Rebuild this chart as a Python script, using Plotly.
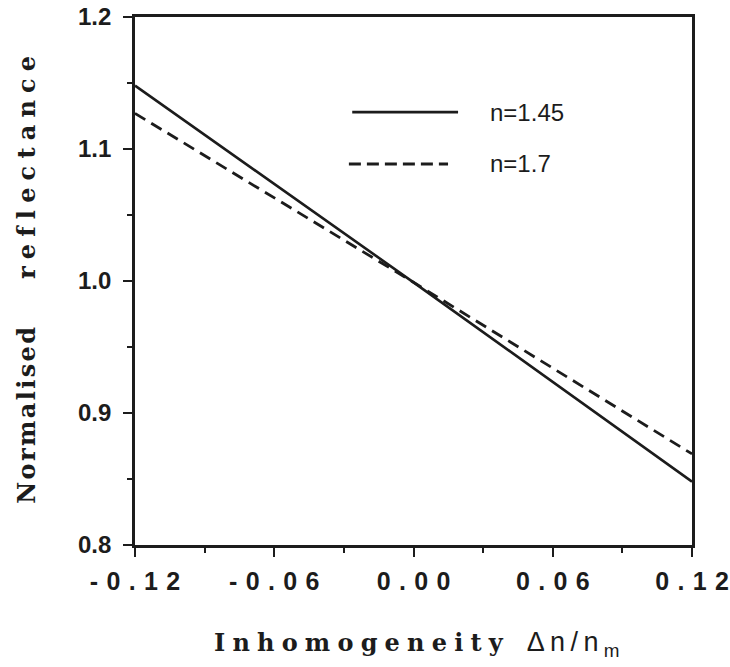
import plotly.graph_objects as go

# ---- data ----
x_vals = [-0.12, 0.0, 0.12]
refl_n145 = [1.148, 0.999, 0.848]
refl_n17 = [1.127, 0.999, 0.869]
series_names = ["n=1.45", "n=1.7"]
x_tickvals = [-0.12, -0.06, 0.0, 0.06, 0.12]
x_ticklabels = ["-0.12", "-0.06", "0.00", "0.06", "0.12"]
y_tickvals = [0.8, 0.9, 1.0, 1.1, 1.2]
y_ticklabels = ["0.8", "0.9", "1.0", "1.1", "1.2"]

def spaced(s, sp):
    return sp.join(list(s))

INK = "#1c1c1c"
SERIF = "DejaVu Serif"

fig = go.Figure()
fig.add_trace(go.Scatter(x=x_vals, y=refl_n145, mode="lines", name=series_names[0],
                         line=dict(color=INK, width=2.6), showlegend=False))
fig.add_trace(go.Scatter(x=x_vals, y=refl_n17, mode="lines", name=series_names[1],
                         line=dict(color=INK, width=2.8, dash="12px,7px"), showlegend=False))

# legend drawn manually
fig.add_shape(type="line", xref="paper", yref="paper", x0=0.39, x1=0.58, y0=0.82, y1=0.82,
              line=dict(color=INK, width=2.8))
fig.add_shape(type="line", xref="paper", yref="paper", x0=0.384, x1=0.562, y0=0.7216, y1=0.7216,
              line=dict(color=INK, width=2.8, dash="12px,6px"))
fig.add_annotation(xref="paper", yref="paper", x=0.633, y=0.82, text=series_names[0],
                   showarrow=False, xanchor="left", yanchor="middle",
                   font=dict(family="Liberation Sans", size=24, color=INK))
fig.add_annotation(xref="paper", yref="paper", x=0.633, y=0.7216, text=series_names[1],
                   showarrow=False, xanchor="left", yanchor="middle",
                   font=dict(family="Liberation Sans", size=24, color=INK))

# axis titles
xtitle = ("<b>" + spaced("Inhomogeneity", "\u2009\u200a") + "</b>" + "\u2003"
          + "<span style='font-family:Liberation Sans;font-weight:normal;font-size:27px'>"
          + spaced("Δn/n", "\u2009") + "\u2009<sub>m</sub></span>")
fig.add_annotation(xref="paper", yref="paper", x=0.138, y=-0.152, text=xtitle,
                   showarrow=False, xanchor="left", yanchor="top",
                   font=dict(family=SERIF, size=24, color=INK))
ytitle = ("<b>" + spaced("Normalised", "\u200a") + "\u2003\u2003"
          + spaced("reflectance", "\u2009\u200a") + "</b>")
fig.add_annotation(xref="paper", yref="paper", x=-0.195, y=0.503, text=ytitle,
                   showarrow=False, textangle=-90, xanchor="center", yanchor="middle",
                   font=dict(family=SERIF, size=24, color=INK))

fig.update_xaxes(range=[-0.12, 0.12], tickvals=x_tickvals,
                 ticktext=[spaced(t, "\u2004") for t in x_ticklabels],
                 ticks="outside", ticklen=9, tickwidth=2.2, tickcolor=INK,
                 minor=dict(ticks="outside", dtick=0.03, tick0=0.0, ticklen=5, tickwidth=2, tickcolor=INK),
                 showline=True, linecolor=INK, linewidth=2.6, mirror=True,
                 showgrid=False, zeroline=False, ticklabelstandoff=3, automargin=False,
                 tickfont=dict(family="Liberation Sans", size=25, color=INK, weight="bold"))
fig.update_yaxes(range=[0.8, 1.2], tickvals=y_tickvals, ticktext=y_ticklabels,
                 ticks="outside", ticklen=9, tickwidth=2.2, tickcolor=INK,
                 minor=dict(ticks="outside", dtick=0.05, tick0=0.8, ticklen=5, tickwidth=2, tickcolor=INK),
                 showline=True, linecolor=INK, linewidth=2.6, mirror=True,
                 showgrid=False, zeroline=False, ticklabelstandoff=7, automargin=False,
                 tickfont=dict(family="Liberation Sans", size=24, color=INK, weight="bold"))

fig.update_layout(width=730, height=667, margin=dict(l=135, r=38, t=17, b=122, autoexpand=False),
                  plot_bgcolor="white", paper_bgcolor="white", showlegend=False)

fig.write_html("out.html")
